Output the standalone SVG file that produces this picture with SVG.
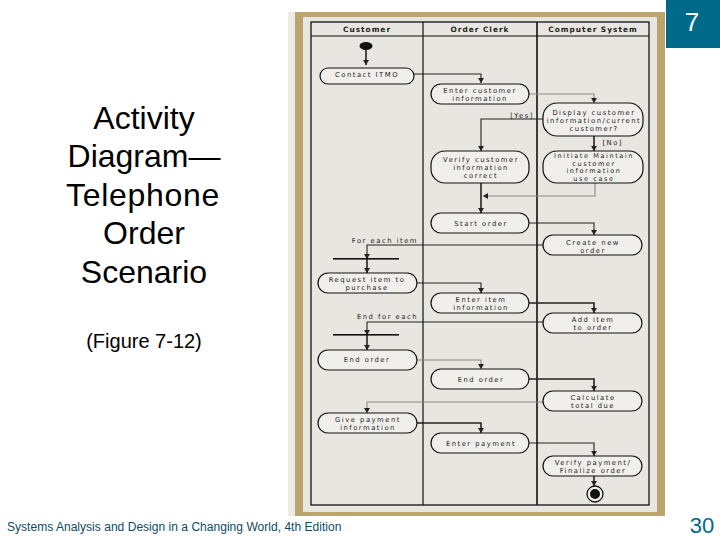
<svg xmlns="http://www.w3.org/2000/svg" width="720" height="540" viewBox="0 0 720 540">
<style>
text{font-family:"Liberation Sans",Arial,sans-serif}
.t{font-size:32px;fill:#000;text-anchor:middle}
.n rect{fill:#f0efeb;stroke:#111;stroke-width:1.2}
.n text,.l,.h{font-family:"DejaVu Sans",sans-serif}
.n text{font-size:6.8px;fill:#222;text-anchor:middle;letter-spacing:1.5px}
.n.s text{font-size:6.5px;letter-spacing:1.6px}
.l{font-size:6.8px;fill:#222;letter-spacing:1.5px;text-anchor:end}
.h{font-size:7.4px;font-weight:bold;fill:#222;text-anchor:middle;letter-spacing:1px}
.c path{fill:none;stroke:#222;stroke-width:1.1;marker-end:url(#a)}
.c path.g{stroke:#888}
.c path.k{stroke-width:1.6}
</style>
<defs><marker id="a" markerUnits="userSpaceOnUse" markerWidth="7" markerHeight="7" refX="5" refY="3" orient="auto"><path d="M0 0L5 3L0 6Z" fill="#222" stroke="none"/></marker></defs>
<rect width="720" height="540" fill="#fff"/>
<rect x="666" y="0" width="54" height="48" fill="#006a8a"/>
<text x="692" y="31" font-size="26" fill="#fff" text-anchor="middle">7</text>
<g id="title">
<text class="t" x="144" y="129">Activity</text>
<text class="t" x="144" y="167">Diagram—</text>
<text class="t" x="143" y="206" letter-spacing=".7">Telephone</text>
<text class="t" x="144" y="244">Order</text>
<text class="t" x="144" y="283">Scenario</text>
</g>
<text x="144" y="348" font-size="20" text-anchor="middle">(Figure 7-12)</text>
<text x="7" y="531" font-size="12" fill="#0d4a63" letter-spacing=".03">Systems Analysis and Design in a Changing World, 4th Edition</text>
<text x="702" y="533" font-size="22" fill="#006a8a" text-anchor="middle">30</text>
<rect x="288" y="12" width="7" height="504" fill="#ecebe6"/>
<rect x="295" y="12" width="370" height="504" fill="#bca46e"/>
<rect x="303" y="17" width="354" height="495" fill="#e8e6e0"/>
<g id="lanes" fill="none" stroke="#111">
<rect x="311" y="22" width="338" height="483" stroke-width="1.3"/>
<path d="M311 36H649M423 22V505" stroke-width="1.2"/>
<path d="M537 22V505" stroke-width="1.6"/>
</g>
<text class="h" x="367" y="32">Customer</text>
<text class="h" x="480" y="32">Order Clerk</text>
<text class="h" x="593" y="32">Computer System</text>
<g id="connectors" class="c">
<path class="k" d="M366 48V65"/>
<path d="M414 74H481V83"/>
<path class="g" d="M529 94H594V103"/>
<path d="M543 119H481V151"/>
<path class="k" d="M594 136V151"/>
<path class="k" d="M481 183V213"/>
<path class="g" d="M595 183V196H483"/>
<path d="M529 223H594V235"/>
<path d="M543 245H367V259"/>
<path class="k" d="M367 259V273"/>
<path d="M417 283H481V293"/>
<path class="k" d="M529 303H594V313"/>
<path d="M543 322H367V335"/>
<path class="k" d="M367 335V350"/>
<path class="g" d="M417 360H481V369"/>
<path class="k" d="M529 379H594V391"/>
<path class="g" d="M543 402H367V413"/>
<path class="k" d="M417 423H481V433"/>
<path d="M529 443H594V456"/>
<path class="k" d="M594 476V486"/>
</g>
<rect x="333" y="258" width="66" height="1.6" fill="#111"/>
<rect x="333" y="334" width="66" height="1.6" fill="#111"/>
<text class="l" x="418" y="243">For each item</text>
<text class="l" x="418" y="319">End for each</text>
<text class="l" x="534" y="118">[Yes]</text>
<text class="l" x="623" y="145">[No]</text>
<g id="start"><ellipse cx="366" cy="46" rx="6.5" ry="4" fill="#111"/></g>
<g id="n1" class="n"><rect x="320" y="68" width="94" height="16" rx="8"/><text x="367" y="77">Contact ITMO</text></g>
<g id="n2" class="n"><rect x="431" y="84" width="98" height="20" rx="10"/><text x="480" y="93">Enter customer</text><text x="480" y="101">information</text></g>
<g id="n3" class="n"><rect x="543" y="103" width="100" height="33" rx="14"/><text x="594" y="115">Display customer</text><text x="594" y="123">information/current</text><text x="594" y="131">customer?</text></g>
<g id="n4" class="n"><rect x="431" y="151" width="98" height="32" rx="14"/><text x="481" y="162">Verify customer</text><text x="481" y="170">information</text><text x="481" y="178">correct</text></g>
<g id="n5" class="n s"><rect x="543" y="151" width="100" height="32" rx="14"/><text x="594" y="158">Initiate Maintain</text><text x="594" y="165.7">customer</text><text x="594" y="173.4">information</text><text x="594" y="181">use case</text></g>
<g id="n6" class="n"><rect x="431" y="213" width="98" height="20" rx="10"/><text x="481" y="226">Start order</text></g>
<g id="n7" class="n"><rect x="543" y="235" width="99" height="20" rx="10"/><text x="593" y="245">Create new</text><text x="593" y="253">order</text></g>
<g id="n8" class="n"><rect x="318" y="273" width="99" height="20" rx="10"/><text x="367" y="282">Request item to</text><text x="367" y="290">purchase</text></g>
<g id="n9" class="n"><rect x="431" y="293" width="98" height="20" rx="10"/><text x="481" y="302">Enter item</text><text x="481" y="310">information</text></g>
<g id="n10" class="n"><rect x="543" y="313" width="99" height="20" rx="10"/><text x="593" y="322">Add item</text><text x="593" y="330">to order</text></g>
<g id="n11" class="n"><rect x="318" y="350" width="99" height="20" rx="10"/><text x="367" y="362">End order</text></g>
<g id="n12" class="n"><rect x="431" y="369" width="98" height="20" rx="10"/><text x="481" y="382">End order</text></g>
<g id="n13" class="n"><rect x="543" y="391" width="99" height="20" rx="10"/><text x="593" y="400">Calculate</text><text x="593" y="408">total due</text></g>
<g id="n14" class="n"><rect x="318" y="413" width="99" height="20" rx="10"/><text x="368" y="422">Give payment</text><text x="368" y="430">information</text></g>
<g id="n15" class="n"><rect x="431" y="433" width="98" height="20" rx="10"/><text x="481" y="446">Enter payment</text></g>
<g id="n16" class="n"><rect x="543" y="456" width="99" height="20" rx="10"/><text x="593" y="465">Verify payment/</text><text x="593" y="473">Finalize order</text></g>
<g id="end"><circle cx="595" cy="494" r="8" fill="#f0efeb" stroke="#111" stroke-width="1.3"/><circle cx="595" cy="494" r="5" fill="#111"/></g>
</svg>
